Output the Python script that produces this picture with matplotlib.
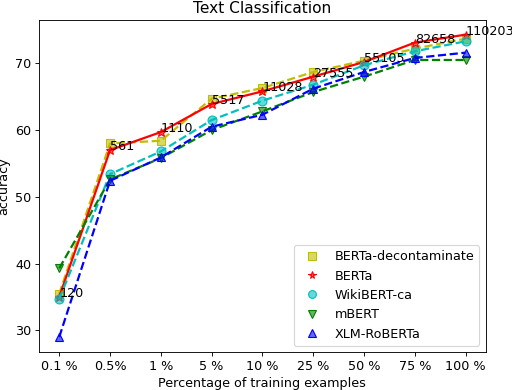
import matplotlib
matplotlib.use("Agg")
import matplotlib.pyplot as plt
from matplotlib.lines import Line2D
from matplotlib.colors import to_rgba

x_labels = ["0.1 %", "0.5%", "1 %", "5 %", "10 %", "25 %", "50 %", "75 %", "100 %"]
n_examples = [120, 561, 1110, 5517, 11028, 27555, 55105, 82658, 110203]

berta_decont = [35.5, 58.0, 58.4, 64.7, 66.3, 68.7, 70.4, 72.2, 73.7]
berta = [35.0, 57.0, 59.7, 63.9, 65.8, 68.0, 70.2, 73.1, 74.3]
wikibert_ca = [34.7, 53.4, 56.8, 61.5, 64.4, 66.8, 69.7, 71.8, 73.3]
mbert = [39.3, 52.6, 55.8, 60.0, 62.8, 65.7, 68.0, 70.5, 70.5]
xlm_roberta = [29.0, 52.4, 55.9, 60.5, 62.3, 66.2, 68.7, 70.8, 71.6]

series = [
    ("BERTa-decontaminate", berta_decont, "y", "s", "--"),
    ("BERTa", berta, "r", "*", "-"),
    ("WikiBERT-ca", wikibert_ca, "c", "o", "--"),
    ("mBERT", mbert, "g", "v", "--"),
    ("XLM-RoBERTa", xlm_roberta, "b", "^", "--"),
]

plt.rcParams["font.size"] = 11.5

fig, ax = plt.subplots(figsize=(6.4, 4.875), dpi=80)
fig.subplots_adjust(left=0.076, right=0.949, top=0.95, bottom=0.097)

xs = list(range(len(x_labels)))
handles = []
for name, vals, color, marker, ls in series:
    ax.plot(xs, vals, linestyle=ls, color=color, linewidth=2,
            marker=marker, markersize=8, markeredgecolor=color,
            markerfacecolor=to_rgba(color, 0.6))
    handles.append(Line2D([], [], linestyle="none", marker=marker, markersize=7,
                          color=color, markeredgecolor=color,
                          markerfacecolor=to_rgba(color, 0.6), label=name))

for xi, yi, n in zip(xs, berta, n_examples):
    ax.annotate(str(n), (xi, yi))

ax.set_xticks(xs)
ax.set_xticklabels(x_labels)
ax.set_title("Text Classification")
ax.set_xlabel("Percentage of training examples")
ax.set_ylabel("accuracy")
ax.legend(handles=handles, loc="lower right")

fig.savefig("out.png", dpi=80)
